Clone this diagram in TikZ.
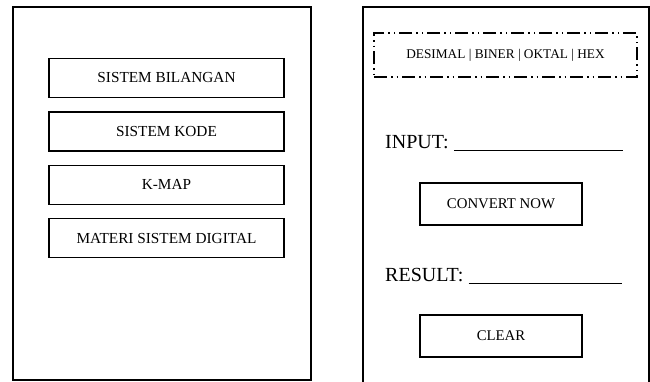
\documentclass[tikz,border=0pt]{standalone}
\usepackage{fontspec}
\setmainfont{Liberation Serif}
\usetikzlibrary{positioning}

\tikzset{
  frame/.style={line width=1.5pt},
  menubtn/.style={draw, line width=1.4pt, minimum width=235pt, minimum height=39pt,
    inner sep=0pt, font=\fontsize{15.3}{18}\selectfont},
  actbtn/.style={draw, line width=1.4pt, minimum width=162pt, minimum height=42pt,
    inner sep=0pt, font=\fontsize{14.8}{18}\selectfont},
  tabbar/.style={draw, line width=1.4pt, minimum width=263pt, minimum height=44pt,
    inner sep=0pt, font=\fontsize{13.3}{16}\selectfont,
    dash pattern=on 13pt off 4pt on 1.5pt off 4pt on 1.5pt off 4pt},
  fieldlabel/.style={anchor=base west, inner sep=0pt, font=\fontsize{20}{24}\selectfont},
  fieldline/.style={line width=1pt}
}

\begin{document}
\begin{tikzpicture}[x=1pt, y=-1pt, node distance=13pt]

\useasboundingbox (0,0) rectangle (650,381);

% Screen frames
\draw[frame] (13,7) rectangle (311,380);
\draw[frame] (363,383) -- (363,7) -- (649,7) -- (649,383);

% Menu screen
\node[menubtn] (bilangan) at (166.5,78) {SISTEM BILANGAN};
\node[menubtn, below=of bilangan] (kode) {SISTEM KODE};
\node[menubtn, below=of kode] (kmap) {K-MAP};
\node[menubtn, below=of kmap] (materi) {MATERI SISTEM DIGITAL};

% Converter screen
\node[tabbar] (basis) at (505.5,55) {DESIMAL | BINER | OKTAL | HEX};

\node[fieldlabel] (input) at (385,148) {INPUT:};
\draw[fieldline] ([xshift=5pt, yshift=-2.5pt]input.base east) -- (623,150.5);

\node[actbtn] (convert) at (501,204) {CONVERT NOW};

\node[fieldlabel] (result) at (385,281) {RESULT:};
\draw[fieldline] ([xshift=5pt, yshift=-2.5pt]result.base east) -- (622,283.5);

\node[actbtn] (clear) at (501,336) {CLEAR};

\end{tikzpicture}
\end{document}
